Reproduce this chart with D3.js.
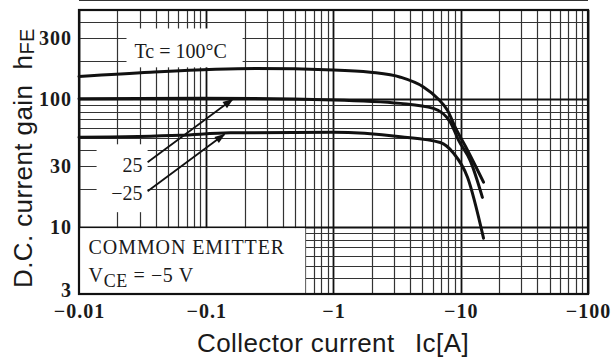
<!DOCTYPE html>
<html>
<head>
<meta charset="utf-8">
<script src="https://cdn.jsdelivr.net/npm/d3@7"></script>
<style>
  body { margin: 0; background: #fff; }
  .tick text { font-family: "Liberation Serif", serif; font-weight: bold; fill: #1a1a1a; letter-spacing: 1px; }
  .note { font-family: "Liberation Serif", serif; fill: #1a1a1a; }
  .title { font-family: "Liberation Sans", Arial, sans-serif; fill: #1a1a1a; }
</style>
</head>
<body>
<svg id="chart" width="611" height="358"></svg>
<script>
// collector current (magnitude, A) and hFE
var ic100 = [0.01, 0.0365, 0.244, 1.0, 1.95, 3.36, 5.09, 6.56, 7.86, 9.08, 11.3, 15.1];
var hfe100 = [151, 163, 174, 170, 163, 149, 125, 102, 82, 60, 40, 22.5];

var ic25 = [0.01, 0.09, 1.0, 3.36, 6.1, 8.3, 9.6, 11.9, 14.8];
var hfe25 = [101, 102, 99, 93, 85, 66, 48, 33, 17.1];

var icm25 = [0.01, 0.063, 0.155, 1.0, 3.36, 6.9, 8.8, 11.3, 15.1];
var hfem25 = [50.5, 52.4, 54.7, 55.2, 51, 46, 37.8, 24.6, 8.2];

var xTicks = [0.01, 0.1, 1, 10, 100];
var xTickLabels = ["\u22120.01", "\u22120.1", "\u22121", "\u221210", "\u2212100"];
var yTicks = [3, 10, 30, 100, 300];
var yTickLabels = ["3", "10", "30", "100", "300"];

var svg = d3.select("#chart");
var mLeft = 79, mRight = 588, mTop = 10, mBottom = 294;

var x = d3.scaleLog().domain([0.01, 100]).range([mLeft, mRight]);
var y = d3.scaleLog().domain([3, 500]).range([mBottom, mTop]);

// grid values
var xGrid = [];
[0.01, 0.1, 1, 10].forEach(function(d) {
  for (var k = 1; k < 10; k++) xGrid.push(d * k);
});
xGrid.push(100);
var yGrid = [3, 4, 5, 6, 7, 8, 9];
[10, 100].forEach(function(d) {
  for (var k = 1; k < 10; k++) yGrid.push(d * k);
});
yGrid.push(500);

function px(v) { return Math.round(v) + 0.5; }
function isMajor(v) { return Math.abs(Math.log10(v) - Math.round(Math.log10(v))) < 1e-6; }

var grid = svg.append("g");
grid.selectAll("line.v").data(xGrid).enter().append("line")
  .attr("x1", function(d) { return px(x(d)); })
  .attr("x2", function(d) { return px(x(d)); })
  .attr("y1", mTop).attr("y2", mBottom)
  .attr("stroke", function(d) { return isMajor(d) ? "#111" : "#333"; })
  .attr("stroke-width", function(d) { return isMajor(d) ? 1.8 : 1.2; });
grid.selectAll("line.h").data(yGrid).enter().append("line")
  .attr("y1", function(d) { return px(y(d)); })
  .attr("y2", function(d) { return px(y(d)); })
  .attr("x1", mLeft).attr("x2", mRight)
  .attr("stroke", function(d) { return isMajor(d) ? "#111" : "#333"; })
  .attr("stroke-width", function(d) { return isMajor(d) ? 1.8 : 1.2; });

// white label boxes over the grid (data coords)
var boxes = [
  [0.0232, 0.193, 365, 178],
  [0.0135, 0.0346, 45.3, 13.1],
  [0.01, 0.6, 10, 3]
];
svg.append("g").selectAll("rect").data(boxes).enter().append("rect")
  .attr("x", function(d) { return x(d[0]) + 1; })
  .attr("y", function(d) { return y(d[2]) + 1; })
  .attr("width", function(d) { return x(d[1]) - x(d[0]) - 1; })
  .attr("height", function(d) { return y(d[3]) - y(d[2]) - 1; })
  .attr("fill", "#fff");

// frame
svg.append("rect")
  .attr("x", mLeft).attr("y", mTop)
  .attr("width", mRight - mLeft).attr("height", mBottom - mTop)
  .attr("fill", "none").attr("stroke", "#111").attr("stroke-width", 2.2);

// curves
var line = d3.line()
  .x(function(d) { return x(d[0]); })
  .y(function(d) { return y(d[1]); })
  .curve(d3.curveMonotoneX);
[[ic100, hfe100], [ic25, hfe25], [icm25, hfem25]].forEach(function(s) {
  svg.append("path")
    .datum(d3.zip(s[0], s[1]))
    .attr("d", line)
    .attr("fill", "none")
    .attr("stroke", "#111")
    .attr("stroke-width", 3)
    .attr("stroke-linecap", "round");
});

// arrows
svg.append("defs").append("marker")
  .attr("id", "arr").attr("viewBox", "0 0 10 10")
  .attr("refX", 9).attr("refY", 5)
  .attr("markerWidth", 9).attr("markerHeight", 6)
  .attr("orient", "auto")
  .append("path").attr("d", "M0,1.5 L10,5 L0,8.5 Z").attr("fill", "#111");
var arrows = [
  [0.0346, 32.2, 0.161, 100],
  [0.0346, 19.1, 0.139, 53.3]
];
svg.append("g").selectAll("line").data(arrows).enter().append("line")
  .attr("x1", function(d) { return x(d[0]); })
  .attr("y1", function(d) { return y(d[1]); })
  .attr("x2", function(d) { return x(d[2]); })
  .attr("y2", function(d) { return y(d[3]); })
  .attr("stroke", "#111").attr("stroke-width", 1.8)
  .attr("marker-end", "url(#arr)");

// annotations
svg.append("text").attr("class", "note")
  .attr("x", x(0.063)).attr("y", y(240)).attr("dy", "0.35em")
  .attr("text-anchor", "middle").attr("font-size", 20)
  .text("Tc = 100\u00b0C");
svg.append("text").attr("class", "note")
  .attr("x", x(0.0316)).attr("y", y(30.5)).attr("dy", "0.35em")
  .attr("text-anchor", "end").attr("font-size", 20)
  .text("25");
svg.append("text").attr("class", "note")
  .attr("x", x(0.0316)).attr("y", y(18.4)).attr("dy", "0.35em")
  .attr("text-anchor", "end").attr("font-size", 20)
  .text("\u221225");
svg.append("text").attr("class", "note")
  .attr("x", x(0.0119)).attr("y", y(6.2))
  .attr("font-size", 20).attr("letter-spacing", 0.9)
  .text("COMMON EMITTER");
var vce = svg.append("text").attr("class", "note")
  .attr("x", x(0.0119)).attr("y", y(3.75))
  .attr("font-size", 20).attr("letter-spacing", 0.6);
vce.append("tspan").text("V");
vce.append("tspan").attr("dy", 5).attr("font-size", 18).text("CE");
vce.append("tspan").attr("dy", -5).text(" = \u22125 V");

// axes (labels only)
var xAxis = d3.axisBottom(x).tickValues(xTicks)
  .tickFormat(function(d, i) { return xTickLabels[i]; }).tickSize(0).tickPadding(10);
var gx = svg.append("g").attr("transform", "translate(0," + mBottom + ")").call(xAxis);
gx.select(".domain").remove();
gx.selectAll("text").attr("font-size", 20);

var yAxis = d3.axisLeft(y).tickValues(yTicks)
  .tickFormat(function(d, i) { return yTickLabels[i]; }).tickSize(0).tickPadding(7);
var gy = svg.append("g").attr("transform", "translate(" + mLeft + ",0)").call(yAxis);
gy.select(".domain").remove();
gy.selectAll("text").attr("font-size", 20);
gy.selectAll(".tick text").filter(function(d) { return d === 3; }).attr("dy", "0.1em");

// axis titles
svg.append("text").attr("class", "title")
  .attr("x", 197).attr("y", 352).attr("font-size", 26).attr("letter-spacing", 0.4)
  .text("Collector current");
svg.append("text").attr("class", "title")
  .attr("x", 415).attr("y", 352).attr("font-size", 26).attr("letter-spacing", 0.4)
  .text("Ic[A]");
var yt = svg.append("text").attr("class", "title")
  .attr("transform", "translate(32,288) rotate(-90)")
  .attr("font-size", 26).attr("letter-spacing", 0.4)
  .attr("xml:space", "preserve");
yt.append("tspan").text("D.C. current gain  h");
yt.append("tspan").attr("font-size", 20).attr("dy", 2).text("FE");
</script>
</body>
</html>
